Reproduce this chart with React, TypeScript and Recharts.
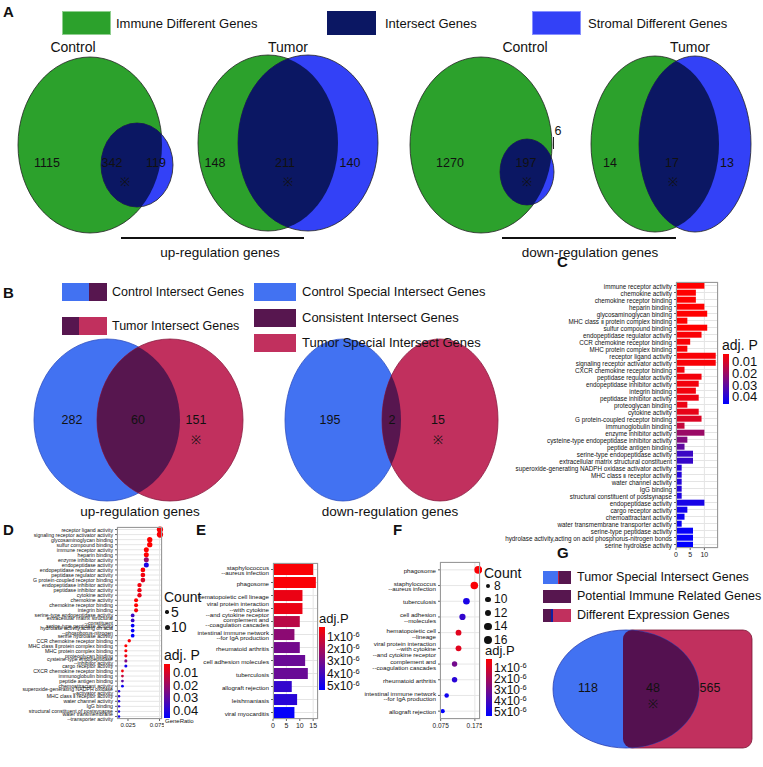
import React from "react";
import { Bar, BarChart, CartesianGrid, Cell, Scatter, ScatterChart, XAxis, YAxis } from "recharts";

const FONT = '"Liberation Sans", Arial, Helvetica, sans-serif';

// ---------- palette ----------
const GREEN = "#2ca12c";
const NAVY = "#0b1763";
const SBLUE = "#3341f7";
const BBLUE = "#4272f2";
const PURPLE = "#57164f";
const PINK = "#c1305e";

// ---------- A / B / G venn counts ----------
const vennCounts = [
  { x: 47, y: 163, text: "1115" },
  { x: 112, y: 163, text: "342" },
  { x: 156, y: 163, text: "119" },
  { x: 125, y: 182, text: "※" },
  { x: 215, y: 163, text: "148" },
  { x: 285, y: 163, text: "211" },
  { x: 350, y: 163, text: "140" },
  { x: 288, y: 182, text: "※" },
  { x: 450, y: 163, text: "1270" },
  { x: 526, y: 163, text: "197" },
  { x: 558, y: 131, text: "6" },
  { x: 527, y: 182, text: "※" },
  { x: 610, y: 163, text: "14" },
  { x: 672, y: 163, text: "17" },
  { x: 727, y: 163, text: "13" },
  { x: 673, y: 182, text: "※" },
  { x: 72, y: 420, text: "282" },
  { x: 138, y: 420, text: "60" },
  { x: 196, y: 420, text: "151" },
  { x: 196, y: 440, text: "※" },
  { x: 330, y: 420, text: "195" },
  { x: 392, y: 420, text: "2" },
  { x: 438, y: 420, text: "15" },
  { x: 438, y: 440, text: "※" },
  { x: 588, y: 688, text: "118" },
  { x: 653, y: 688, text: "48" },
  { x: 710, y: 688, text: "565" },
  { x: 653, y: 704, text: "※" },
];

// venn outlines, figure units: centre and half extents
type VSet = { id: string; kind: "ellipse" | "rect"; x: number; y: number; rx: number; ry: number; fill: string; edge: string };
const vennSets: VSet[] = [
  { id: "a1imm", kind: "ellipse", x: 90, y: 145, rx: 72, ry: 88, fill: GREEN, edge: "#222" },
  { id: "a1str", kind: "ellipse", x: 137, y: 165, rx: 36, ry: 42, fill: SBLUE, edge: "#222" },
  { id: "a2imm", kind: "ellipse", x: 268, y: 143, rx: 70, ry: 88, fill: GREEN, edge: "#222" },
  { id: "a2str", kind: "ellipse", x: 308, y: 143, rx: 70, ry: 88, fill: SBLUE, edge: "#222" },
  { id: "a3imm", kind: "ellipse", x: 481, y: 145, rx: 71, ry: 88, fill: GREEN, edge: "#222" },
  { id: "a3str", kind: "ellipse", x: 527, y: 172, rx: 27, ry: 33, fill: SBLUE, edge: "#222" },
  { id: "a4imm", kind: "ellipse", x: 655, y: 144, rx: 64, ry: 88, fill: GREEN, edge: "#222" },
  { id: "a4str", kind: "ellipse", x: 695, y: 144, rx: 56, ry: 88, fill: SBLUE, edge: "#222" },
  { id: "b1ctl", kind: "ellipse", x: 107, y: 420, rx: 73, ry: 81, fill: BBLUE, edge: "#3050c0" },
  { id: "b1tum", kind: "ellipse", x: 170, y: 420, rx: 73, ry: 81, fill: PINK, edge: "#8a1c40" },
  { id: "b2ctl", kind: "ellipse", x: 343, y: 420, rx: 58, ry: 81, fill: BBLUE, edge: "#3050c0" },
  { id: "b2tum", kind: "ellipse", x: 440, y: 420, rx: 58, ry: 81, fill: PINK, edge: "#8a1c40" },
  { id: "gdeg", kind: "rect", x: 687.5, y: 689, rx: 64.5, ry: 59, fill: PINK, edge: "#7a1535" },
  { id: "gtsi", kind: "ellipse", x: 626, y: 689, rx: 73, ry: 59, fill: BBLUE, edge: "#2a3fb0" },
];
// [drawn set, clipping set, colour]
const vennLenses: [string, string, string][] = [
  ["a1str", "a1imm", NAVY],
  ["a2str", "a2imm", NAVY],
  ["a3str", "a3imm", NAVY],
  ["a4str", "a4imm", NAVY],
  ["b1tum", "b1ctl", PURPLE],
  ["b2tum", "b2ctl", PURPLE],
  ["gtsi", "gdeg", "#541150"],
];

// ---------- C / D : GO terms ----------
const goTerms = [
  "immune receptor activity",
  "chemokine activity",
  "chemokine receptor binding",
  "heparin binding",
  "glycosaminoglycan binding",
  "MHC class Ⅱ protein complex binding",
  "sulfur compound binding",
  "endopeptidase regulator activity",
  "CCR chemokine receptor binding",
  "MHC protein complex binding",
  "receptor ligand activity",
  "signaling receptor activator activity",
  "CXCR chemokine receptor binding",
  "peptidase regulator activity",
  "endopeptidase inhibitor activity",
  "integrin binding",
  "peptidase inhibitor activity",
  "proteoglycan binding",
  "cytokine activity",
  "G protein-coupled receptor binding",
  "immunoglobulin binding",
  "enzyme inhibitor activity",
  "cysteine-type endopeptidase inhibitor activity",
  "peptide antigen binding",
  "serine-type endopeptidase activity",
  "extracellular matrix structural constituent",
  "superoxide-generating NADPH oxidase activator activity",
  "MHC class Ⅱ receptor activity",
  "water channel activity",
  "IgG binding",
  "structural constituent of postsynapse",
  "endopeptidase activity",
  "cargo receptor activity",
  "chemoattractant activity",
  "water transmembrane transporter activity",
  "serine-type peptidase activity",
  "hydrolase activity,acting on acid phosphorus-nitrogen bonds",
  "serine hydrolase activity",
];
const goCounts = [10, 7, 7, 10, 11, 4, 11, 9, 5, 4, 14, 14, 3, 9, 8, 7, 8, 4, 8, 9, 3, 10, 4, 3, 6, 6, 2, 2, 2, 2, 2, 10, 4, 3, 2, 6, 6, 6];
const goAdjP = [
  0.003, 0.003, 0.003, 0.003, 0.003, 0.003, 0.003, 0.004, 0.004, 0.004, 0.004, 0.004, 0.005, 0.005, 0.005, 0.005, 0.006, 0.006, 0.007,
  0.009, 0.013, 0.02, 0.024, 0.03, 0.036, 0.037, 0.04, 0.04, 0.04, 0.04, 0.041, 0.042, 0.043, 0.044, 0.044, 0.045, 0.045, 0.046,
];
const goTotal = 185;
const goTicksC = [0, 5, 10];
const goRatioTicks = [0.025, 0.05, 0.075];
const goLegendP = [0.01, 0.02, 0.03, 0.04];
const dotOrder = [
  "receptor ligand activity",
  "signaling receptor activator activity",
  "glycosaminoglycan binding",
  "sulfur compound binding",
  "immune receptor activity",
  "heparin binding",
  "enzyme inhibitor activity",
  "endopeptidase activity",
  "endopeptidase regulator activity",
  "peptidase regulator activity",
  "G protein-coupled receptor binding",
  "endopeptidase inhibitor activity",
  "peptidase inhibitor activity",
  "cytokine activity",
  "chemokine activity",
  "chemokine receptor binding",
  "integrin binding",
  "serine-type endopeptidase activity",
  "extracellular matrix structural constituent",
  "serine-type peptidase activity",
  "hydrolase activity,acting on acid phosphorus-nitrogen bonds",
  "serine hydrolase activity",
  "CCR chemokine receptor binding",
  "MHC class Ⅱ protein complex binding",
  "MHC protein complex binding",
  "proteoglycan binding",
  "cysteine-type endopeptidase inhibitor activity",
  "cargo receptor activity",
  "CXCR chemokine receptor binding",
  "immunoglobulin binding",
  "peptide antigen binding",
  "chemoattractant activity",
  "superoxide-generating NADPH oxidase activator activity",
  "MHC class Ⅱ receptor activity",
  "water channel activity",
  "IgG binding",
  "structural constituent of postsynapse",
  "water transmembrane transporter activity",
];
const dotWrapped: Record<string, string> = {
  "extracellular matrix structural constituent": "extracellular matrix structural\n--constituent",
  "hydrolase activity,acting on acid phosphorus-nitrogen bonds": "hydrolase activity,acting on acid\n--phosphorus-nitrogen",
  "cysteine-type endopeptidase inhibitor activity": "cysteine-type endopeptidase\n--inhibitor activity",
  "superoxide-generating NADPH oxidase activator activity": "superoxide-generating NADPH oxidase\n--activator activity",
  "water transmembrane transporter activity": "water transmembrane\n--transporter activity",
};
const dotCountLegend = [5, 10];

// ---------- E / F : KEGG ----------
const keggBarTerms = [
  "staphylococcus\n--aureus infection",
  "phagosome",
  "hematopoietic cell lineage",
  "viral protein interaction\n--with cytokine\n--and cytokine receptor",
  "complement and\n--coagulation cascades",
  "intestinal immune network\n--for IgA production",
  "rheumatoid arthritis",
  "cell adhesion molecules",
  "tuberculosis",
  "allograft rejection",
  "leishmaniasis",
  "viral myocarditis",
];
const keggBarCounts = [15, 16, 11, 11, 10, 8, 10, 12, 13, 7, 9, 8];
const keggBarAdjP = [0.3, 0.3, 0.6, 0.6, 1.6, 2.5, 3.0, 3.2, 3.2, 4.3, 4.5, 5.2]; // x1e-6
const keggBarTicks = [0, 5, 10, 15];

const keggDotTerms = [
  "phagosome",
  "staphylococcus\n--aureus infection",
  "tuberculosis",
  "cell adhesion\n--molecules",
  "hematopoietic cell\n--lineage",
  "viral protein interaction\n--with cytokine\n--and cytokine receptor",
  "complement and\n--coagulation cascades",
  "rheumatoid arthritis",
  "intestinal immune network\n--for IgA production",
  "allograft rejection",
];
const keggDotCounts = [16, 15, 13, 12, 11, 11, 10, 10, 8, 7];
const keggDotAdjP = [0.3, 0.3, 4.8, 4.3, 0.8, 0.8, 3.0, 4.5, 5.0, 5.3]; // x1e-6
const keggTotal = 86.5;
const keggRatioTicks = [0.075, 0.125, 0.175];
const keggLegendP = [1, 2, 3, 4, 5];
const keggCountLegend = [8, 10, 12, 14, 16];

// ---------- colour scales ----------
const heat = (t: number) => {
  const c = Math.max(0, Math.min(1, t));
  return `rgb(${Math.round(255 * (1 - c))},${Math.round(10 * Math.sin(Math.PI * c))},${Math.round(255 * c)})`;
};
const goT = (p: number) => (p - 0.003) / (0.046 - 0.003);
const keggT = (p: number) => (p - 0.2) / (5.3 - 0.2);

const cRows = goTerms.map((term, i) => ({ term, count: goCounts[i], color: heat(goT(goAdjP[i])) }));
const dRows = dotOrder.map((name) => {
  const i = goTerms.indexOf(name);
  return { term: dotWrapped[name] ?? name, ratio: goCounts[i] / goTotal, count: goCounts[i], color: heat(goT(goAdjP[i])) };
});
const eRows = keggBarTerms.map((term, i) => ({ term, count: keggBarCounts[i], color: heat(keggT(keggBarAdjP[i])) }));
const fRows = keggDotTerms.map((term, i) => ({
  term,
  ratio: keggDotCounts[i] / keggTotal,
  count: keggDotCounts[i],
  color: heat(keggT(keggDotAdjP[i])),
}));

const vennById = Object.fromEntries(vennSets.map((s) => [s.id, s]));
const lensRows = vennLenses.map(([a, b, color]) => ({ x: vennById[a].x, y: vennById[a].y, base: vennById[a], clip: vennById[b], color }));

// ---------- drawing helpers ----------
const W = 763;
const H = 767;

const outline = (s: VSet, cx: number, cy: number, extra: any = {}) =>
  s.kind === "rect" ? (
    <rect x={cx - s.rx} y={cy - s.ry} width={s.rx * 2} height={s.ry * 2} rx={9} {...extra} />
  ) : (
    <ellipse cx={cx} cy={cy} rx={s.rx} ry={s.ry} {...extra} />
  );

const setShape = (p: any) => outline(p.payload, p.cx, p.cy, { fill: p.payload.fill, stroke: p.payload.edge, strokeWidth: 0.8 });

const lensShape = (p: any) => {
  const { base, clip, color } = p.payload;
  const id = `clip-${base.id}`;
  return (
    <g>
      <defs>
        <clipPath id={id}>{outline(clip, p.cx + (clip.x - base.x), p.cy + (clip.y - base.y))}</clipPath>
      </defs>
      {outline(base, p.cx, p.cy, { fill: color, clipPath: `url(#${id})` })}
    </g>
  );
};

const countShape = (p: any) => (
  <text x={p.cx} y={p.cy} textAnchor="middle" dominantBaseline="central" fontSize={p.payload.text === "※" ? 12 : 12.5} fontFamily={FONT} fill="#111">
    {p.payload.text}
  </text>
);

function TermTick(props: any) {
  const { x, y, payload, size, gap = 0.92 } = props;
  const lines = String(payload.value).split("\n");
  const lh = size * gap;
  const y0 = y - ((lines.length - 1) * lh) / 2;
  return (
    <text x={x} y={y0} textAnchor="end" fontSize={size} fontFamily={FONT} fill="#111" dominantBaseline="central">
      {lines.map((l, i) => (
        <tspan key={i} x={x} dy={i === 0 ? 0 : lh}>
          {l}
        </tspan>
      ))}
    </text>
  );
}

const Txt = ({ x, y, size = 13, anchor = "start", bold = false, children }: any) => (
  <div
    style={{
      position: "absolute",
      left: x,
      top: y - size * 0.6,
      fontSize: size,
      lineHeight: `${size * 1.2}px`,
      fontWeight: bold ? 700 : 400,
      whiteSpace: "nowrap",
      transform: anchor === "middle" ? "translateX(-50%)" : anchor === "end" ? "translateX(-100%)" : undefined,
    }}
  >
    {children}
  </div>
);

const Swatch = ({ x, y, w, h, parts, border = "none" }: any) => (
  <div style={{ position: "absolute", left: x, top: y, width: w, height: h, display: "flex", border, boxSizing: "border-box" }}>
    {parts.map(([f, c]: [number, string], i: number) => (
      <div key={i} style={{ width: `${f * 100}%`, height: "100%", background: c }} />
    ))}
  </div>
);

const Frame = ({ x, y, w, h }: any) => (
  <div style={{ position: "absolute", left: x, top: y, width: w, height: h, border: "1px solid #9a9a9a", boxSizing: "border-box" }} />
);

const GradientBar = ({ x, y, w, h, id }: any) => (
  <svg style={{ position: "absolute", left: x, top: y }} width={w} height={h}>
    <defs>
      <linearGradient id={id} x1="0" y1="0" x2="0" y2="1">
        {[0, 0.2, 0.4, 0.6, 0.8, 1].map((t) => (
          <stop key={t} offset={t} stopColor={heat(t)} />
        ))}
      </linearGradient>
    </defs>
    <rect width={w} height={h} fill={`url(#${id})`} />
  </svg>
);

const Sci = ({ v }: { v: number }) => (
  <span>
    {v}x10<sup style={{ fontSize: "0.62em", verticalAlign: "0.55em", lineHeight: 0 }}>-6</sup>
  </span>
);

export default function App() {
  return (
    <div style={{ position: "relative", width: W, height: H, background: "#fff", fontFamily: FONT, color: "#111", overflow: "hidden" }}>
      <style>{"body{margin:0}"}</style>

      {/* venn diagrams of panels A, B and G */}
      <div style={{ position: "absolute", left: 0, top: 0 }}>
        <ScatterChart width={W} height={H} margin={{ top: 0, right: 0, bottom: 0, left: 0 }}>
          <XAxis type="number" dataKey="x" domain={[0, W]} hide />
          <YAxis type="number" dataKey="y" domain={[0, H]} hide reversed />
          <Scatter data={vennSets} shape={setShape} isAnimationActive={false} />
          <Scatter data={lensRows} shape={lensShape} isAnimationActive={false} />
          <Scatter data={vennCounts} shape={countShape} isAnimationActive={false} />
        </ScatterChart>
      </div>

      {/* panel A texts */}
      <Txt x={3} y={12} size={15} bold>A</Txt>
      <Swatch x={62} y={11} w={49} h={24} parts={[[1, GREEN]]} border="1px solid #8fcf8f" />
      <Txt x={116} y={24} size={13}>Immune Different Genes</Txt>
      <Swatch x={327} y={11} w={49} h={24} parts={[[1, NAVY]]} />
      <Txt x={385} y={24} size={13}>Intersect Genes</Txt>
      <Swatch x={532} y={11} w={49} h={24} parts={[[1, SBLUE]]} border="1px solid #8890ff" />
      <Txt x={588} y={24} size={13}>Stromal Different Genes</Txt>
      <Txt x={73} y={47} size={14} anchor="middle">Control</Txt>
      <Txt x={288} y={47} size={14} anchor="middle">Tumor</Txt>
      <Txt x={525} y={47} size={14} anchor="middle">Control</Txt>
      <Txt x={690} y={47} size={14} anchor="middle">Tumor</Txt>
      <div style={{ position: "absolute", left: 553, top: 137, width: 1, height: 12, background: "#222" }} />
      <div style={{ position: "absolute", left: 121, top: 237, width: 183, height: 1.5, background: "#111" }} />
      <Txt x={220} y={253} size={13.5} anchor="middle">up-regulation genes</Txt>
      <div style={{ position: "absolute", left: 502, top: 237, width: 174, height: 1.5, background: "#111" }} />
      <Txt x={590} y={253} size={13.5} anchor="middle">down-regulation genes</Txt>

      {/* panel B texts */}
      <Txt x={3} y={293} size={15} bold>B</Txt>
      <Swatch x={62} y={283} w={45} h={18} parts={[[0.6, BBLUE], [0.4, PURPLE]]} />
      <Txt x={112} y={292} size={12.5}>Control Intersect Genes</Txt>
      <Swatch x={62} y={317} w={45} h={18} parts={[[0.38, PURPLE], [0.62, PINK]]} />
      <Txt x={112} y={326} size={12.5}>Tumor Intersect Genes</Txt>
      <Swatch x={254} y={283} w={42} h={18} parts={[[1, BBLUE]]} />
      <Txt x={302} y={292} size={13}>Control Special Intersect Genes</Txt>
      <Swatch x={254} y={309} w={42} h={18} parts={[[1, PURPLE]]} />
      <Txt x={302} y={318} size={13}>Consistent Intersect Genes</Txt>
      <Swatch x={254} y={334} w={42} h={18} parts={[[1, PINK]]} />
      <Txt x={302} y={343} size={13}>Tumor Special Intersect Genes</Txt>
      <Txt x={140} y={512} size={13.5} anchor="middle">up-regulation genes</Txt>
      <Txt x={390} y={512} size={13.5} anchor="middle">down-regulation genes</Txt>

      {/* panel C: GO bar chart */}
      <Txt x={557} y={262} size={15} bold>C</Txt>
      <div style={{ position: "absolute", left: 470, top: 280 }}>
        <BarChart width={250} height={280} data={cRows} layout="vertical" margin={{ top: 2, right: 2, bottom: 0, left: 0 }} barCategoryGap="10%">
          <CartesianGrid stroke="#e4e4e4" />
          <XAxis type="number" domain={[0, 14.8]} ticks={goTicksC} tick={{ fontSize: 7, fill: "#222" }} tickSize={2} height={12} axisLine={false} />
          <YAxis type="category" dataKey="term" width={206} interval={0} tickSize={2} axisLine={false} tick={(p: any) => <TermTick {...p} size={6.3} />} />
          <Bar dataKey="count" isAnimationActive={false}>
            {cRows.map((r, i) => (
              <Cell key={i} fill={r.color} />
            ))}
          </Bar>
        </BarChart>
      </div>
      <Frame x={676} y={282} w={42} h={266} />
      <Txt x={722} y={345} size={14}>adj. P</Txt>
      <GradientBar x={723} y={354} w={6} h={50} id="gC" />
      {goLegendP.map((p) => (
        <Txt key={p} x={732} y={354 + goT(p) * 50} size={13}>
          {p.toFixed(2)}
        </Txt>
      ))}

      {/* panel D: GO dot plot */}
      <Txt x={3} y={530} size={15} bold>D</Txt>
      <div style={{ position: "absolute", left: 0, top: 525 }}>
        <ScatterChart width={164} height={205} margin={{ top: 2, right: 2, bottom: 0, left: 0 }}>
          <CartesianGrid stroke="#e6e6e6" />
          <XAxis
            type="number"
            dataKey="ratio"
            domain={[0.0076, 0.0789]}
            ticks={goRatioTicks}
            tickFormatter={(v: number) => v.toFixed(3)}
            tick={{ fontSize: 6, fill: "#222" }}
            tickSize={2}
            height={11}
            axisLine={false}
          />
          <YAxis
            type="category"
            dataKey="term"
            width={117}
            interval={0}
            tickSize={2}
            axisLine={false}
            reversed
            tick={(p: any) => <TermTick {...p} size={5.2} gap={0.8} />}
          />
          <Scatter
            data={dRows}
            isAnimationActive={false}
            shape={(p: any) => <circle cx={p.cx} cy={p.cy} r={0.9 + p.payload.count * 0.16} fill={p.payload.color} />}
          />
        </ScatterChart>
      </div>
      <Frame x={117} y={527} w={45} h={192} />
      <Txt x={165} y={722} size={6}>GeneRatio</Txt>
      <Txt x={164} y={597} size={14}>Count</Txt>
      {dotCountLegend.map((c, i) => (
        <React.Fragment key={c}>
          <div style={{ position: "absolute", left: 167 - (0.9 + c * 0.16), top: 612 + i * 15 - (0.9 + c * 0.16), width: 2 * (0.9 + c * 0.16), height: 2 * (0.9 + c * 0.16), borderRadius: "50%", background: "#111" }} />
          <Txt x={171} y={612 + i * 15} size={14}>{c}</Txt>
        </React.Fragment>
      ))}
      <Txt x={164} y={655} size={14}>adj. P</Txt>
      <GradientBar x={164} y={664} w={6} h={54} id="gD" />
      {goLegendP.map((p) => (
        <Txt key={p} x={173} y={664 + goT(p) * 54} size={13}>
          {p.toFixed(2)}
        </Txt>
      ))}

      {/* panel E: KEGG bar chart */}
      <Txt x={196} y={530} size={15} bold>E</Txt>
      <div style={{ position: "absolute", left: 180, top: 561 }}>
        <BarChart width={140} height={170} data={eRows} layout="vertical" margin={{ top: 2, right: 2, bottom: 0, left: 0 }} barCategoryGap="8%">
          <CartesianGrid stroke="#e4e4e4" />
          <XAxis type="number" domain={[0, 16.8]} ticks={keggBarTicks} tick={{ fontSize: 7, fill: "#222" }} tickSize={2} height={12} axisLine={false} />
          <YAxis type="category" dataKey="term" width={93} interval={0} tickSize={2} axisLine={false} tick={(p: any) => <TermTick {...p} size={6.2} />} />
          <Bar dataKey="count" isAnimationActive={false}>
            {eRows.map((r, i) => (
              <Cell key={i} fill={r.color} />
            ))}
          </Bar>
        </BarChart>
      </div>
      <Frame x={273} y={563} w={45} h={156} />
      <Txt x={319} y={619} size={13}>adj.P</Txt>
      <GradientBar x={319} y={627} w={6} h={63} id="gE" />
      {keggLegendP.map((p) => (
        <Txt key={p} x={327} y={627 + keggT(p) * 63} size={12}>
          <Sci v={p} />
        </Txt>
      ))}

      {/* panel F: KEGG dot plot */}
      <Txt x={393} y={530} size={15} bold>F</Txt>
      <div style={{ position: "absolute", left: 330, top: 560 }}>
        <ScatterChart width={152} height={170} margin={{ top: 2, right: 2, bottom: 0, left: 0 }}>
          <CartesianGrid stroke="#e6e6e6" />
          <XAxis
            type="number"
            dataKey="ratio"
            domain={[0.073, 0.19]}
            ticks={keggRatioTicks}
            tickFormatter={(v: number) => v.toFixed(3)}
            tick={{ fontSize: 6.5, fill: "#222" }}
            tickSize={2}
            height={11}
            axisLine={false}
          />
          <YAxis type="category" dataKey="term" width={110} interval={0} tickSize={2} axisLine={false} reversed tick={(p: any) => <TermTick {...p} size={6.2} />} />
          <Scatter
            data={fRows}
            isAnimationActive={false}
            shape={(p: any) => <circle cx={p.cx} cy={p.cy} r={0.6 + p.payload.count * 0.21} fill={p.payload.color} />}
          />
        </ScatterChart>
      </div>
      <Frame x={440} y={562} w={40} h={157} />
      <Txt x={484} y={573} size={14}>Count</Txt>
      {keggCountLegend.map((c, i) => (
        <React.Fragment key={c}>
          <div
            style={{
              position: "absolute",
              left: 488 - (0.6 + c * 0.21),
              top: 586 + i * 13.5 - (0.6 + c * 0.21),
              width: 2 * (0.6 + c * 0.21),
              height: 2 * (0.6 + c * 0.21),
              borderRadius: "50%",
              background: "#111",
            }}
          />
          <Txt x={494} y={586 + i * 13.5} size={12}>{c}</Txt>
        </React.Fragment>
      ))}
      <Txt x={485} y={651} size={13}>adj.P</Txt>
      <GradientBar x={486} y={659} w={6} h={57} id="gF" />
      {keggLegendP.map((p) => (
        <Txt key={p} x={494} y={659 + keggT(p) * 57} size={12}>
          <Sci v={p} />
        </Txt>
      ))}

      {/* panel G texts */}
      <Txt x={557} y={553} size={15} bold>G</Txt>
      <Swatch x={543} y={571} w={28} h={13} parts={[[0.52, BBLUE], [0.04, "#c02040"], [0.44, PURPLE]]} />
      <Txt x={577} y={577} size={12.5}>Tumor Special Intersect Genes</Txt>
      <Swatch x={543} y={590} w={28} h={13} parts={[[1, PURPLE]]} />
      <Txt x={577} y={596} size={12.5}>Potential Immune Related Genes</Txt>
      <Swatch x={543} y={609} w={28} h={13} parts={[[0.28, PURPLE], [0.06, "#1020a0"], [0.66, PINK]]} />
      <Txt x={577} y={615} size={12.5}>Different Expression Genes</Txt>
    </div>
  );
}
